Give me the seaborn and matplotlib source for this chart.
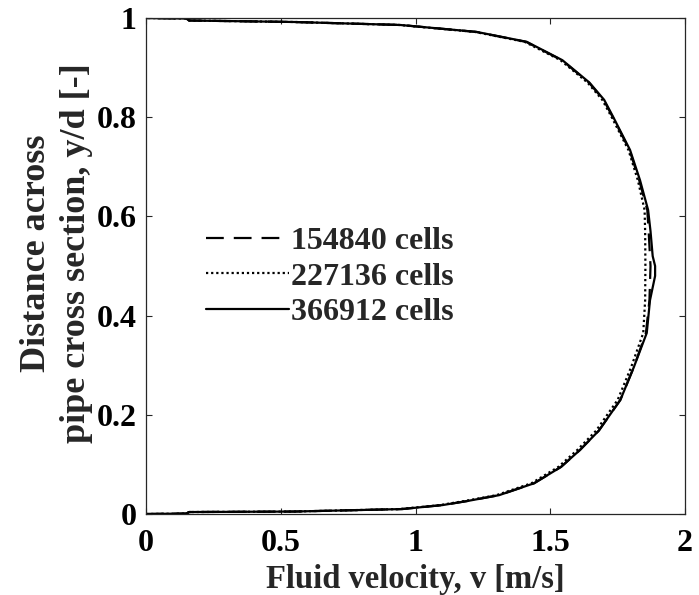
import matplotlib
matplotlib.use("Agg")
import matplotlib.pyplot as plt
import seaborn as sns
import pandas as pd

# Wall-normal position across the pipe (y/d) and axial velocity (m/s) per mesh
y_coarse = [0.000, 0.001, 0.004, 0.005, 0.010, 0.018, 0.026, 0.038, 0.062, 0.095, 0.129,
            0.168, 0.230, 0.296, 0.365, 0.431, 0.500, 0.570, 0.613, 0.673, 0.734, 0.800,
            0.835, 0.870, 0.915, 0.952, 0.972, 0.986, 0.992, 0.995, 0.999, 1.000]
v_coarse = [0.00, 0.15, 0.16, 0.55, 0.95, 1.10, 1.19, 1.31, 1.44, 1.54, 1.61,
            1.68, 1.76, 1.81, 1.855, 1.868, 1.872, 1.865, 1.860, 1.830, 1.794, 1.732,
            1.698, 1.643, 1.543, 1.410, 1.225, 0.945, 0.55, 0.16, 0.15, 0.00]

y_medium = [0.000, 0.001, 0.004, 0.005, 0.010, 0.018, 0.026, 0.038, 0.062, 0.095, 0.129,
            0.168, 0.230, 0.296, 0.365, 0.431, 0.500, 0.570, 0.613, 0.673, 0.734, 0.800,
            0.835, 0.870, 0.915, 0.952, 0.972, 0.986, 0.992, 0.995, 0.999, 1.000]
v_medium = [0.00, 0.15, 0.16, 0.55, 0.94, 1.09, 1.18, 1.30, 1.43, 1.53, 1.60,
            1.67, 1.75, 1.80, 1.845, 1.852, 1.853, 1.852, 1.850, 1.825, 1.790, 1.728,
            1.693, 1.638, 1.538, 1.405, 1.220, 0.940, 0.55, 0.16, 0.15, 0.00]

y_fine = [0.000, 0.001, 0.004, 0.005, 0.010, 0.018, 0.026, 0.038, 0.062, 0.095, 0.129,
          0.168, 0.230, 0.296, 0.365, 0.431, 0.480, 0.500, 0.520, 0.570, 0.613, 0.673,
          0.734, 0.800, 0.835, 0.870, 0.915, 0.952, 0.972, 0.986, 0.992, 0.995, 0.999, 1.000]
v_fine = [0.00, 0.15, 0.16, 0.55, 0.95, 1.10, 1.19, 1.31, 1.44, 1.54, 1.61,
          1.68, 1.76, 1.81, 1.858, 1.870, 1.889, 1.889, 1.880, 1.872, 1.863, 1.833,
          1.796, 1.734, 1.700, 1.645, 1.545, 1.413, 1.227, 0.943, 0.55, 0.16, 0.15, 0.00]

labels = ["154840 cells", "227136 cells", "366912 cells"]
styles = [(0, (8, 4.5)), (0, (1, 1.3)), "-"]

x_ticks = [0, 0.5, 1, 1.5, 2]
y_ticks = [0, 0.2, 0.4, 0.6, 0.8, 1]

sns.set_style("ticks")
plt.rcParams["font.family"] = ["Liberation Serif", "DejaVu Serif"]
plt.rcParams["font.weight"] = "bold"
plt.rcParams["axes.labelweight"] = "bold"

fig = plt.figure(figsize=(6.99, 5.95), dpi=100)
ax = fig.add_axes([0.2089, 0.1361, 0.7711, 0.8336])

for y_vals, v_vals, lab, ls in zip([y_coarse, y_medium, y_fine],
                                   [v_coarse, v_medium, v_fine], labels, styles):
    df = pd.DataFrame({"v": v_vals, "y": y_vals})
    sns.lineplot(data=df, x="v", y="y", sort=False, estimator=None, ax=ax,
                 color="black", linestyle=ls, linewidth=1.6, label=lab)

ax.set_xlim(0, 2)
ax.set_ylim(0, 1)
ax.set_xticks(x_ticks)
ax.set_yticks(y_ticks)
ax.set_xticklabels([f"{t:g}" for t in x_ticks])
ax.set_yticklabels([f"{t:g}" for t in y_ticks])
ax.tick_params(direction="in", length=4, width=0.8, labelsize=23, colors="#262626",
               top=True, right=True)
ax.tick_params(axis="y", pad=7)
ax.tick_params(axis="x", pad=11)
for lab in ax.get_xticklabels() + ax.get_yticklabels():
    lab.set_color("black")
    lab.set_fontweight("bold")
for sp in ax.spines.values():
    sp.set_visible(True)
    sp.set_color("#262626")
    sp.set_linewidth(0.9)

ax.set_xlabel("Fluid velocity, v [m/s]", fontsize=23.5, fontweight="bold", labelpad=4)
ax.set_ylabel("Distance across\npipe cross section, y/d [-]", fontsize=26,
              fontweight="bold", linespacing=1.3)
ax.yaxis.set_label_coords(-0.098, 0.525)

leg = ax.legend(loc="center left", bbox_to_anchor=(0.112, 0.478), frameon=False,
                fontsize=23, handlelength=2.6, handletextpad=0.05, labelspacing=0.2,
                borderpad=0, borderaxespad=0)
for t in leg.get_texts():
    t.set_fontweight("bold")

fig.savefig("out.png", dpi=100)
